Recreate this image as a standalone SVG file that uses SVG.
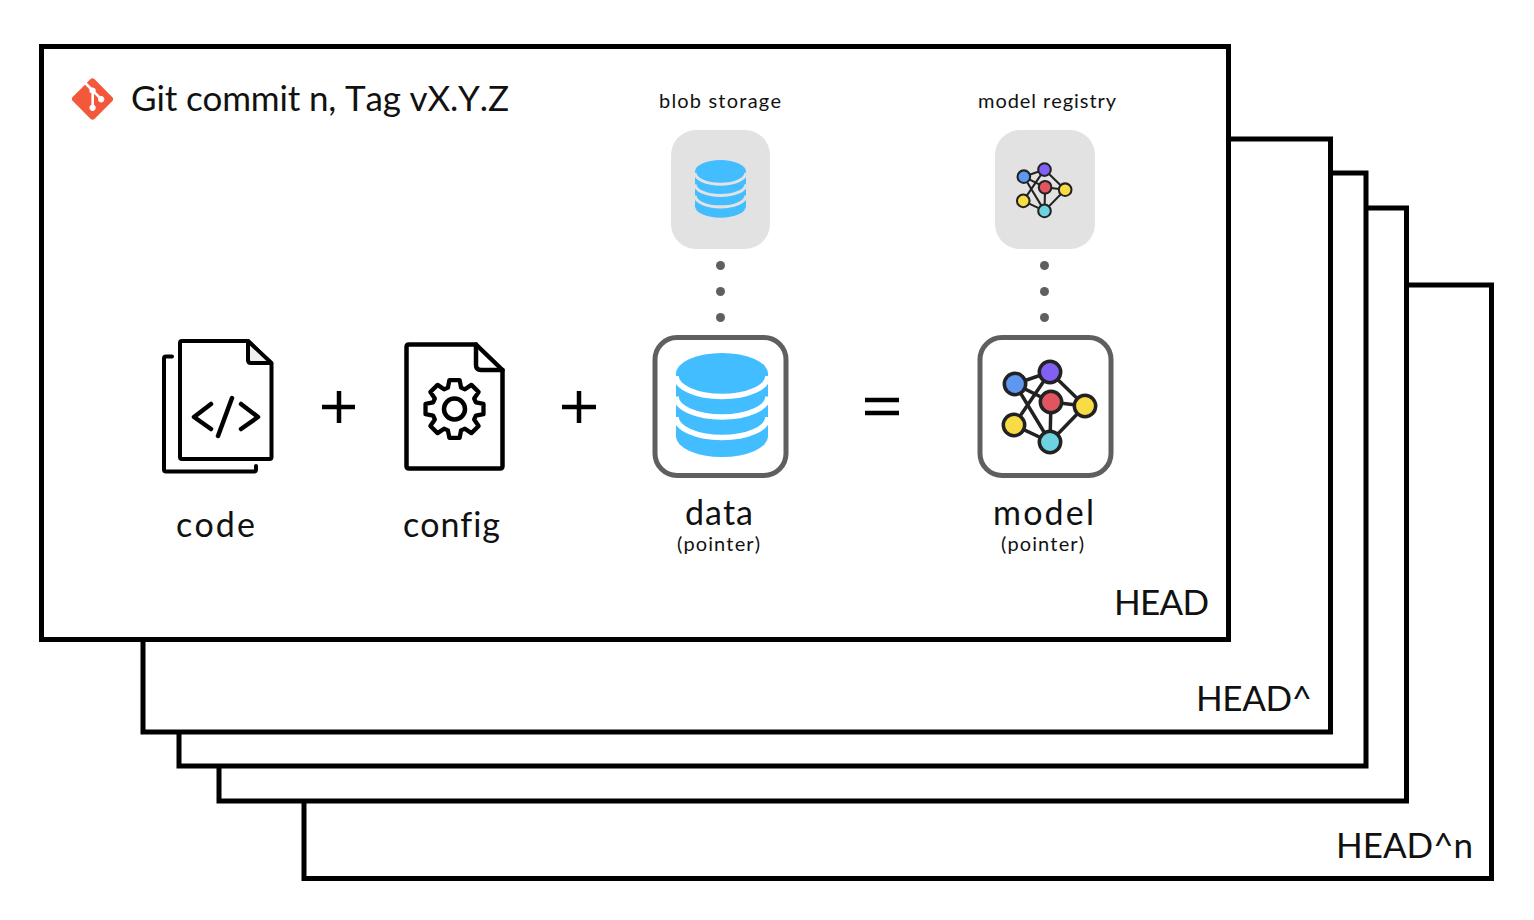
<svg xmlns="http://www.w3.org/2000/svg" xmlns:xlink="http://www.w3.org/1999/xlink" width="1534" height="920" viewBox="0 0 1534 920">
<style>
text{font-family:"Lato","Open Sans","Liberation Sans",sans-serif;fill:#111;font-variant-ligatures:none;font-kerning:none}
.sheet{fill:#fff;stroke:#000;stroke-width:5}
.big{font-size:35px}
.mid{font-size:34px}
.small{font-size:20px}
.ic{fill:none;stroke:#000;stroke-linecap:round;stroke-linejoin:round}
.box{fill:#fff;stroke:#5f5f5f;stroke-width:5}
.tile{fill:#e2e2e2}
.dot{fill:#5f5f5f}
.edge{stroke:#222;stroke-width:3.5;fill:none}
.n{stroke:#222;stroke-width:3.5}
</style>
<defs>
<g id="db">
<path fill="#42bdff" d="M676,373.5A46,20.5 0 0 1 768,373.5V436.5A46,20.5 0 0 1 676,436.5Z"/>
<g fill="none" stroke="currentColor" stroke-width="5.5">
<path d="M676,376A46,20.5 0 0 0 768,376"/>
<path d="M676,396.5A46,20.5 0 0 0 768,396.5"/>
<path d="M676,417A46,20.5 0 0 0 768,417"/>
</g>
</g>
<g id="net">
<g class="edge">
<path d="M1015,384L1050,372M1015,384L1051,402M1015,384L1050,442M1050,372L1085,406M1050,372L1014,425M1051,402L1085,406M1051,402L1050,442M1085,406L1050,442M1014,425L1050,442"/>
</g>
<circle class="n" cx="1015" cy="384" r="10.7" fill="#5e97f0"/>
<circle class="n" cx="1050" cy="372" r="10.7" fill="#8360f5"/>
<circle class="n" cx="1051" cy="402" r="10.7" fill="#e05560"/>
<circle class="n" cx="1085" cy="406" r="10.7" fill="#f8dc45"/>
<circle class="n" cx="1014" cy="425" r="10.7" fill="#f8dc45"/>
<circle class="n" cx="1050" cy="442" r="10.7" fill="#6dd3e0"/>
</g>
</defs>

<g id="sheet-head-n"><rect class="sheet" x="304" y="285" width="1187.5" height="593.5"/><text class="big" x="1336" y="858" textLength="137">HEAD^n</text></g>
<g id="sheet-3"><rect class="sheet" x="219" y="208" width="1187.5" height="593"/></g>
<g id="sheet-2"><rect class="sheet" x="179" y="173" width="1187" height="593"/></g>
<g id="sheet-head-1"><rect class="sheet" x="143" y="139" width="1187.5" height="593"/><text class="big" x="1196" y="711" textLength="116">HEAD^</text></g>
<g id="sheet-head"><rect class="sheet" x="41.5" y="46.5" width="1187" height="593"/><text class="big" x="1114" y="615" textLength="95">HEAD</text></g>

<g id="title">
<path transform="translate(92.5,99) scale(.45) translate(-48.5,-48.5)" fill="#f4583a" d="M92.71 44.408L52.591 4.291c-2.31-2.311-6.057-2.311-8.369 0l-8.33 8.332L46.459 23.19c2.456-.83 5.272-.273 7.229 1.685 1.969 1.97 2.521 4.81 1.67 7.275l10.186 10.185c2.465-.85 5.307-.3 7.275 1.671 2.75 2.75 2.75 7.206 0 9.958-2.752 2.751-7.208 2.751-9.961 0-2.068-2.07-2.58-5.11-1.531-7.658l-9.5-9.499v24.997c.67.332 1.303.774 1.861 1.332 2.75 2.75 2.75 7.206 0 9.959-2.75 2.749-7.209 2.749-9.957 0-2.75-2.754-2.75-7.21 0-9.959.68-.679 1.467-1.193 2.307-1.537v-25.23c-.84-.344-1.625-.853-2.307-1.537-2.083-2.082-2.584-5.14-1.516-7.698L31.798 16.715 4.288 44.222c-2.311 2.313-2.311 6.06 0 8.371l40.121 40.118c2.31 2.311 6.056 2.311 8.369 0L92.71 52.779c2.311-2.311 2.311-6.06 0-8.371z"/>
<text class="big" x="131" y="111" textLength="378">Git commit n, Tag vX.Y.Z</text>
</g>

<g id="blob-storage">
<text class="small" x="659" y="107.5" textLength="122">blob storage</text>
<rect class="tile" x="671" y="130" width="99" height="119" rx="25"/>
<use xlink:href="#db" href="#db" color="#e2e2e2" transform="translate(720.5,189) scale(.554) translate(-722,-405.25)"/>
</g>
<g id="model-registry">
<text class="small" x="978" y="107.5" textLength="138">model registry</text>
<rect class="tile" x="995" y="130" width="100" height="119" rx="25"/>
<use xlink:href="#net" href="#net" transform="translate(1044.5,187.3) scale(.59) translate(-1050,-402)"/>
</g>

<g id="connectors">
<g class="dot">
<circle cx="720.5" cy="265.5" r="4.5"/><circle cx="720.5" cy="291.5" r="4.5"/><circle cx="720.5" cy="317.5" r="4.5"/>
<circle cx="1044.5" cy="265.5" r="4.5"/><circle cx="1044.5" cy="291.5" r="4.5"/><circle cx="1044.5" cy="317.5" r="4.5"/>
</g>
</g>

<g id="code">
<path class="ic" stroke-width="4" d="M172,356.5H166q-2,0 -2,2V469.5q0,2 2,2H254q2,0 2,-2V466"/>
<path class="ic" stroke-width="4" d="M248,341H182q-2,0 -2,2V457q0,2 2,2H269.5q2,0 2,-2V364Z"/>
<path class="ic" stroke-width="4" style="fill:#f0f0f0" d="M248,341V360q0,3 3,3H271.5Z"/>
<path class="ic" stroke-width="4.5" d="M211,404L194,417L211,429M241,404L258,417L241,429M232,398L218,436"/>
<text class="mid" x="176" y="536.5" textLength="79">code</text>
</g>

<g id="plus-1"><path class="ic" stroke-width="4.5" style="stroke-linecap:butt" d="M322,407H355M339,391V423"/></g>

<g id="config">
<path class="ic" stroke-width="4.5" d="M476,344.5H409q-2.5,0 -2.5,2.5V466q0,2.5 2.5,2.5H500q2.5,0 2.5,-2.5V370Z"/>
<path class="ic" stroke-width="4.5" d="M476,344.5V365q0,5 5,5H502.5"/>
<path class="ic" stroke-width="4.5" transform="translate(454.5,409) scale(.95)" d="M-6.9,-22.5L-5.4,-30.5 5.4,-30.5 6.9,-22.5 11,-20.7 17.8,-25.4 25.4,-17.8 20.7,-11 22.5,-6.9 30.5,-5.4 30.5,5.4 22.5,6.9 20.7,11 25.4,17.8 17.8,25.4 11,20.7 6.9,22.5 5.4,30.5 -5.4,30.5 -6.9,22.5 -11,20.7 -17.8,25.4 -25.4,17.8 -20.7,11 -22.5,6.9 -30.5,5.4 -30.5,-5.4 -22.5,-6.9 -20.7,-11 -25.4,-17.8 -17.8,-25.4 -11,-20.7Z"/>
<circle class="ic" stroke-width="4.5" cx="454.5" cy="409" r="10.5"/>
<text class="mid" x="403" y="536.5" textLength="97">config</text>
</g>

<g id="plus-2"><path class="ic" stroke-width="4.5" style="stroke-linecap:butt" d="M562,407H596M579,391V423"/></g>

<g id="data">
<rect class="box" x="655" y="337.5" width="131" height="138" rx="22"/>
<use xlink:href="#db" href="#db" color="#fff"/>
<text class="mid" x="685" y="525" textLength="68">data</text>
<text class="small" x="677" y="551.3" textLength="83">(pointer)</text>
</g>

<g id="equals"><path class="ic" stroke-width="4.5" style="stroke-linecap:butt" d="M865,400H899M865,413H899"/></g>

<g id="model">
<rect class="box" x="980" y="337.5" width="131" height="138" rx="22"/>
<use xlink:href="#net" href="#net"/>
<text class="mid" x="993" y="525" textLength="101">model</text>
<text class="small" x="1001" y="551.3" textLength="83">(pointer)</text>
</g>
</svg>
